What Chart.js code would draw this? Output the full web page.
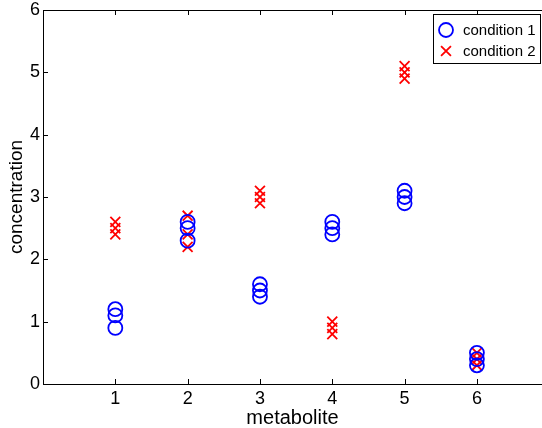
<!DOCTYPE html>
<html>
<head>
<meta charset="utf-8">
<script src="https://cdn.jsdelivr.net/npm/chart.js@4/dist/chart.umd.min.js"></script>
<style>
  html, body { margin: 0; padding: 0; background: #fff; overflow: hidden; }
  #wrap { width: 542px; height: 428px; position: relative; }
</style>
</head>
<body>
<div id="wrap"><canvas id="myChart"></canvas></div>
<script>
// data
const metabolite = [1, 1, 1, 2, 2, 2, 3, 3, 3, 4, 4, 4, 5, 5, 5, 6, 6, 6];
const condition1 = [1.2, 1.1, 0.9, 2.6, 2.5, 2.3, 1.6, 1.5, 1.4, 2.6, 2.5, 2.4, 3.1, 3.0, 2.9, 0.5, 0.4, 0.3];
const condition2 = [2.6, 2.5, 2.4, 2.7, 2.4, 2.2, 3.1, 3.0, 2.9, 1.0, 0.9, 0.8, 5.1, 5.0, 4.9, 0.5, 0.4, 0.3];
const seriesNames = ["condition 1", "condition 2"];
const xTicks = [1, 2, 3, 4, 5, 6];
const yTicks = [0, 1, 2, 3, 4, 5, 6];

const toPoints = vals => vals.map((v, i) => ({ x: metabolite[i], y: v }));

const font = "'Liberation Sans', Arial, sans-serif";

// matlab style box: top line + inward tick marks
const boxPlugin = {
  id: "box",
  afterDatasetsDraw(chart) {
    const { ctx, chartArea: a, scales } = chart;
    ctx.save();
    ctx.strokeStyle = "#000";
    ctx.lineWidth = 1;
    ctx.beginPath();
    ctx.moveTo(a.left, a.top + 0.5);
    ctx.lineTo(a.right, a.top + 0.5);
    xTicks.forEach(v => {
      const px = Math.round(scales.x.getPixelForValue(v)) + 0.5;
      ctx.moveTo(px, a.bottom);
      ctx.lineTo(px, a.bottom - 5);
      ctx.moveTo(px, a.top);
      ctx.lineTo(px, a.top + 5);
    });
    yTicks.forEach(v => {
      const py = Math.round(scales.y.getPixelForValue(v)) + 0.5;
      ctx.moveTo(a.left, py);
      ctx.lineTo(a.left + 5, py);
    });
    ctx.stroke();
    ctx.restore();
  }
};

// legend box in the top right corner
const legendPlugin = {
  id: "boxLegend",
  afterDraw(chart) {
    const { ctx } = chart;
    const x = 433, y = 14, w = 107, h = 49;
    ctx.save();
    ctx.fillStyle = "#fff";
    ctx.fillRect(x, y, w, h);
    ctx.strokeStyle = "#000";
    ctx.lineWidth = 1;
    ctx.strokeRect(x + 0.5, y + 0.5, w, h);
    ctx.font = "15px " + font;
    ctx.textBaseline = "middle";
    chart.data.datasets.forEach((ds, i) => {
      const cy = y + 16 + i * 21;
      ctx.save();
      ctx.fillStyle = "rgba(0,0,0,0)";
      ctx.strokeStyle = ds.borderColor;
      ctx.lineWidth = ds.borderWidth;
      Chart.helpers.drawPoint(ctx, {
        pointStyle: ds.pointStyle,
        radius: ds.pointRadius,
        borderWidth: ds.borderWidth
      }, x + 13, cy);
      ctx.restore();
      ctx.fillStyle = "#000";
      ctx.fillText(ds.label, x + 30, cy + 1);
    });
    ctx.restore();
  }
};

const ctx = document.getElementById("myChart").getContext("2d");
const myChart = new Chart(ctx, {
  type: "scatter",
  data: {
    datasets: [{
      label: seriesNames[0],
      data: toPoints(condition1),
      pointStyle: "circle",
      pointRadius: 7,
      pointHoverRadius: 7,
      borderWidth: 1.8,
      borderColor: "#0000ff",
      backgroundColor: "rgba(0,0,0,0)"
    }, {
      label: seriesNames[1],
      data: toPoints(condition2),
      pointStyle: "crossRot",
      pointRadius: 7,
      pointHoverRadius: 7,
      borderWidth: 1.8,
      borderColor: "#ff0000",
      backgroundColor: "#ff0000"
    }]
  },
  options: {
    responsive: true,
    maintainAspectRatio: false,
    animation: false,
    layout: { autoPadding: false, padding: { top: 10, right: 0, left: 0, bottom: 0 } },
    plugins: {
      legend: { display: false },
      tooltip: { enabled: false }
    },
    scales: {
      x: {
        type: "linear",
        min: 0,
        max: 6.9,
        afterBuildTicks: scale => { scale.ticks = xTicks.map(v => ({ value: v })); },
        afterFit: scale => { scale.height = 44; scale.paddingLeft = 0; scale.paddingRight = 0; },
        grid: { display: false, drawTicks: false },
        border: { display: true, color: "#000", width: 1 },
        ticks: { color: "#000", padding: 4, font: { family: font, size: 18 }, maxRotation: 0 },
        title: {
          display: true, text: "metabolite", color: "#000",
          font: { family: font, size: 20, lineHeight: 1 },
          padding: { top: 0, bottom: 0 }
        }
      },
      y: {
        min: 0,
        max: 6,
        afterBuildTicks: scale => { scale.ticks = yTicks.map(v => ({ value: v })); },
        afterFit: scale => { scale.width = 43; scale.paddingTop = 0; scale.paddingBottom = 0; },
        grid: { display: false, drawTicks: false },
        border: { display: true, color: "#000", width: 1 },
        ticks: { color: "#000", padding: 3, font: { family: font, size: 18 } },
        title: {
          display: true, text: "concentration", color: "#000",
          font: { family: font, size: 19, lineHeight: 1 },
          padding: { top: 7, bottom: 0 }
        }
      }
    }
  },
  plugins: [boxPlugin, legendPlugin]
});
</script>
</body>
</html>
